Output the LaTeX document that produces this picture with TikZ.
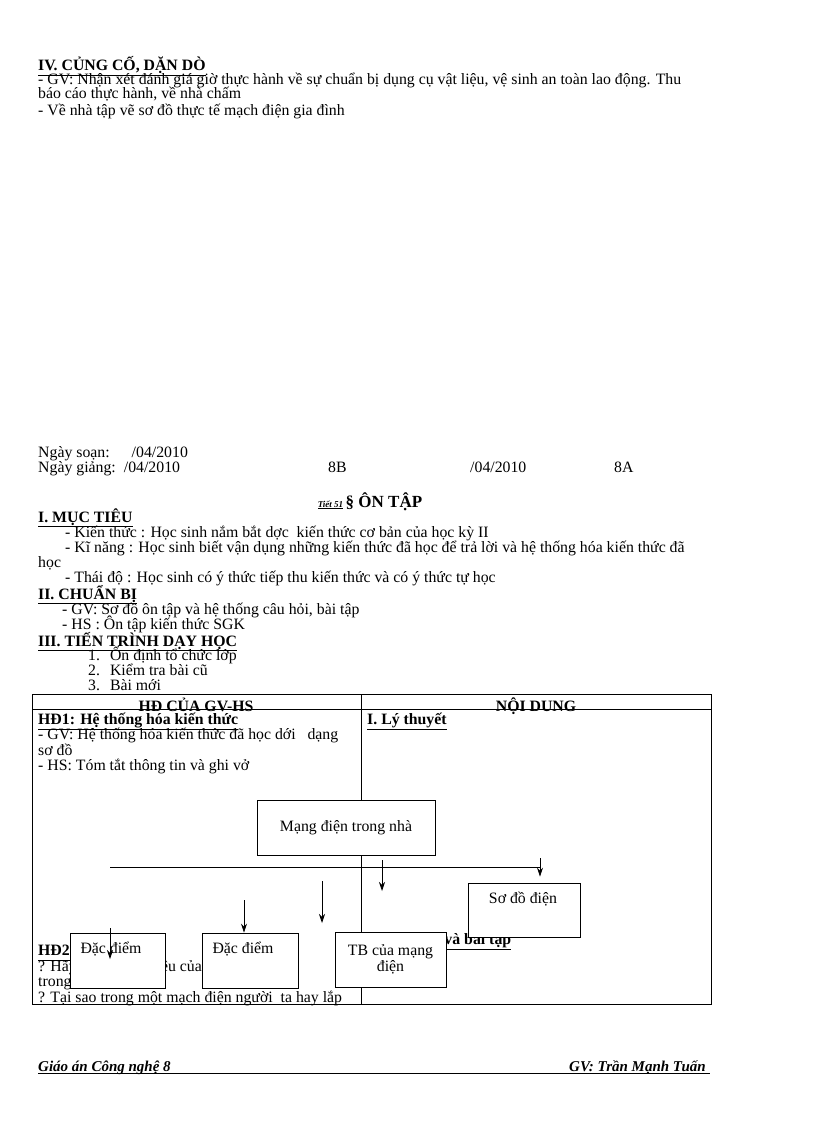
\documentclass[tikz,border=0pt]{standalone}
\usepackage{fontspec}
\setmainfont{Liberation Serif}
\usetikzlibrary{arrows.meta}
\begin{document}
\begin{tikzpicture}[x=1pt,y=-1pt,
  txt/.style={anchor=base west,inner sep=0pt,font=\fontsize{15.8}{15}\selectfont},
  hd/.style={txt,font=\fontsize{15.8}{15}\selectfont\bfseries},
  bx/.style={draw,fill=white,line width=0.8pt,inner sep=0pt,font=\fontsize{15.8}{16}\selectfont,align=center},
  arr/.style={-{Stealth[length=9pt,width=6pt]},line width=0.8pt}]
\useasboundingbox (0,0) rectangle (816,1123);
% Section IV
\node[hd] (iv) at (38,71) {\underline{IV. CỦNG CỐ, DẶN DÒ}};
\node[txt] (iv1) at (38,85) {- GV: Nhận xét đánh giá giờ thực hành về sự chuẩn bị dụng cụ vật liệu, vệ sinh an toàn lao động. Thu};
\node[txt] (iv2) at (38,99) {báo cáo thực hành, về nhà chấm};
\node[txt] (iv3) at (38,116) {- Về nhà tập vẽ sơ đồ thực tế mạch điện gia đình};
% dates
\node[txt] (ns) at (38,457) {Ngày soạn:\hspace{22pt}/04/2010};
\node[txt] (ng) at (38,472) {Ngày giảng:\hspace{8pt}/04/2010};
\node[txt] (b8) at (328,472) {8B};
\node[txt] (d2) at (470,472) {/04/2010};
\node[txt] (a8) at (614,472) {8A};
\node[anchor=base,inner sep=0pt] (title) at (370,507) {{\fontsize{9}{10}\selectfont\itshape\bfseries\underline{Tiết 51}} {\fontsize{17}{19}\selectfont\bfseries § ÔN TẬP}};
% I
\node[hd] (i) at (38,522) {\underline{I. MỤC TIÊU}};
\node[txt] (i1) at (65,537) {- Kiến thức : Học sinh nắm bắt dợc\ \ kiến thức cơ bản của học kỳ II};
\node[txt] (i2) at (65,552) {- Kĩ năng : Học sinh biết vận dụng những kiến thức đã học để trả lời và hệ thống hóa kiến thức đã};
\node[txt] (i3) at (38,567) {học};
\node[txt] (i4) at (65,582) {- Thái độ : Học sinh có ý thức tiếp thu kiến thức và có ý thức tự học};
\node[hd] (ii) at (38,599) {\underline{II. CHUẨN BỊ}};
\node[txt] (ii1) at (62,614) {- GV: Sơ đồ ôn tập và hệ thống câu hỏi, bài tập};
\node[txt] (ii2) at (62,629) {- HS : Ôn tập kiến thức SGK};
\node[hd] (iii) at (38,646) {\underline{III. TIẾN TRÌNH DẠY HỌC}};
\node[txt] (l1) at (88,660) {1.\hspace{10pt}Ổn định tổ chức lớp};
\node[txt] (l2) at (88,675) {2.\hspace{10pt}Kiểm tra bài cũ};
\node[txt] (l3) at (88,690) {3.\hspace{10pt}Bài mới};
% table
\draw[line width=0.8pt] (32,694) rectangle (711,1004);
\draw[line width=0.8pt] (32,709) -- (711,709);
\draw[line width=0.8pt] (361,694) -- (361,1004);
\node[anchor=base,inner sep=0pt,font=\fontsize{15.8}{15}\selectfont\bfseries] (h1) at (196,711) {HĐ CỦA GV-HS};
\node[anchor=base,inner sep=0pt,font=\fontsize{15.8}{15}\selectfont\bfseries] (h2) at (536,711) {NỘI DUNG};
\node[hd] (hd1) at (38,724) {\underline{HĐ1: Hệ thống hóa kiến thức}};
\node[txt] (t1) at (38,739) {- GV: Hệ thống hóa kiến thức đã học dới\ \ \ dạng};
\node[txt] (t2) at (38,755) {sơ đồ};
\node[txt] (t3) at (38,770) {- HS: Tóm tắt thông tin và ghi vở};
\node[hd] (lt) at (367,724) {\underline{I. Lý thuyết}};
\node[hd] (hd2) at (38,955) {\underline{HĐ2: Giải bài tập}};
\node[txt] (q1) at (38,971) {? Hãy nêu các kí hiệu của các phần tử có};
\node[txt] (q2) at (38,986) {trong mạch điện};
\node[txt] (q3) at (38,1002) {? Tại sao trong một mạch điện người\ \ ta hay lắp};
\node[hd] (gbt) at (367,944) {\underline{II. Câu hỏi và bài tập}};
% diagram
\node[bx,minimum width=178pt,minimum height=55pt] (md) at (346,827.5) {Mạng điện trong nhà};
\coordinate (hl) at (110,867);
\coordinate (hr) at (540,867);
\draw[line width=0.8pt] (hl) -- (hr);
\node[bx,minimum width=112pt,minimum height=54pt] (sd) at (524,910) {};
\node[font=\fontsize{15.8}{16}\selectfont,anchor=base] (sdt) at (523,903) {Sơ đồ điện};
\node[bx,minimum width=111pt,minimum height=55pt] (tb) at (390.5,959.5) {TB của mạng\\điện};
\node[bx,minimum width=96pt,minimum height=55pt] (dd2) at (250,960.5) {};
\node[font=\fontsize{15.8}{16}\selectfont,anchor=base] (dd2t) at (243,953) {Đặc điểm};
\node[bx,minimum width=95pt,minimum height=55pt] (dd1) at (117.5,960.5) {};
\node[font=\fontsize{15.8}{16}\selectfont,anchor=base] (dd1t) at (111,953) {Đặc điểm};
\coordinate (a1s) at (382,860); \coordinate (a1e) at (382,891);
\draw[arr] (a1s) -- (a1e);
\coordinate (a2s) at (540,858);
\draw[arr] (a2s) -- ([yshift=6pt]sd.north -| a2s);
\coordinate (a3s) at (322,881); \coordinate (a3e) at (322,923);
\draw[arr] (a3s) -- (a3e);
\coordinate (a4s) at (244,900);
\draw[arr] (a4s) -- (dd2.north -| a4s);
\coordinate (a5s) at (110,928); \coordinate (a5e) at (110,959);
\draw[arr] (a5s) -- (a5e);
% footer
\node[anchor=base west,inner sep=0pt,font=\fontsize{15}{15}\selectfont\itshape\bfseries] (fl) at (38,1071) {Giáo án Công nghệ 8};
\node[anchor=base east,inner sep=0pt,font=\fontsize{15}{15}\selectfont\itshape\bfseries] (fr) at (706,1071) {GV: Trần Mạnh Tuấn};
\draw[line width=0.6pt] (38,1073) -- (710,1073);
\end{tikzpicture}
\end{document}
